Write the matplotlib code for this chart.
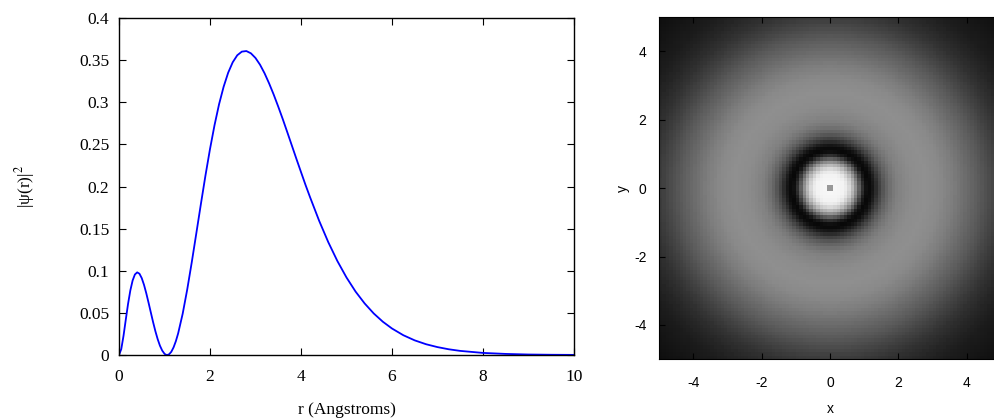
import numpy as np
import matplotlib
matplotlib.use('Agg')
import matplotlib.pyplot as plt

plt.rcParams['axes.unicode_minus'] = False
plt.rcParams['mathtext.fontset'] = 'stix'

# radial density curve
r_vals = [0.0, 0.05, 0.1, 0.15, 0.2, 0.25, 0.3, 0.35, 0.4, 0.45, 0.5, 0.55, 0.6, 0.65,
          0.7, 0.75, 0.8, 0.85, 0.9, 0.95, 1.0, 1.03, 1.06, 1.1, 1.15, 1.2, 1.25, 1.3,
          1.4, 1.5, 1.6, 1.7, 1.8, 1.9, 2.0, 2.1, 2.2, 2.3, 2.4, 2.5, 2.6, 2.7, 2.8,
          2.9, 3.0, 3.1, 3.2, 3.3, 3.4, 3.5, 3.6, 3.7, 3.8, 3.9, 4.0, 4.1, 4.2, 4.4,
          4.6, 4.8, 5.0, 5.2, 5.4, 5.6, 5.8, 6.0, 6.25, 6.5, 6.75, 7.0, 7.25, 7.5,
          8.0, 8.5, 9.0, 9.5, 10.0]
p_vals = [0.0, 0.0070, 0.0229, 0.0422, 0.0609, 0.0768, 0.0885, 0.0956, 0.0981, 0.0965,
          0.0913, 0.0833, 0.0733, 0.0621, 0.0505, 0.0390, 0.0283, 0.0189, 0.0111, 0.0053,
          0.0015, 0.0004, 0.0, 0.0008, 0.0038, 0.0091, 0.0164, 0.0256, 0.0490, 0.0778,
          0.1102, 0.1445, 0.1791, 0.2128, 0.2443, 0.2728, 0.2977, 0.3184, 0.3351, 0.3475,
          0.3558, 0.3601, 0.3608, 0.3581, 0.3526, 0.3446, 0.3344, 0.3224, 0.3092, 0.2949,
          0.2800, 0.2644, 0.2486, 0.2328, 0.2173, 0.2019, 0.1873, 0.1593, 0.1340, 0.1116,
          0.0921, 0.0753, 0.0612, 0.0493, 0.0395, 0.0315, 0.0235, 0.0174, 0.0128, 0.0094,
          0.0068, 0.0049, 0.0025, 0.0013, 0.0006, 0.0003, 0.00015]

# grey level of the right-panel map against distance from centre
map_r = [0.0, 0.09, 0.13, 0.4, 0.5, 0.6, 0.7, 0.8, 0.9, 1.0, 1.1, 1.2, 1.3, 1.4, 1.6,
         1.8, 2.0, 2.4, 2.8, 3.2, 3.6, 4.0, 4.4, 4.8, 5.2, 5.6, 6.0, 7.1]
map_grey = [0.6, 0.6, 0.97, 0.95, 0.9, 0.8, 0.66, 0.48, 0.28, 0.1, 0.03, 0.05, 0.12,
            0.22, 0.37, 0.46, 0.51, 0.55, 0.56, 0.54, 0.49, 0.42, 0.35, 0.27, 0.20,
            0.15, 0.11, 0.05]
grid_step = 0.1
grid_lim = 5.0

fig = plt.figure(figsize=(9.94, 4.19), dpi=100)

# ---- left panel ----
ax1 = fig.add_axes([0.1197, 0.1527, 0.4577, 0.8043])
ax1.plot(r_vals, p_vals, color='#0000ff', lw=1.3)
ax1.set_xlim(0, 10)
ax1.set_ylim(0, 0.4)
ax1.set_xticks([0, 2, 4, 6, 8, 10])
ax1.set_yticks([0, 0.05, 0.1, 0.15, 0.2, 0.25, 0.3, 0.35, 0.4])
ax1.set_yticklabels(['0', '0.05', '0.1', '0.15', '0.2', '0.25', '0.3', '0.35', '0.4'])
ax1.tick_params(direction='in', top=True, right=True, length=5, width=0.8)
ax1.tick_params(axis='x', pad=10)
ax1.tick_params(axis='y', pad=7)
for lab in ax1.get_xticklabels() + ax1.get_yticklabels():
    lab.set_family('Liberation Serif')
    lab.set_fontsize(12.5)
ax1.set_xlabel('r (Angstroms)', family='Liberation Serif', fontsize=12.5, labelpad=12)
ax1.set_ylabel('|ψ(r)|$^2$', family='Liberation Serif', fontsize=12.5, labelpad=30)
for s in ax1.spines.values():
    s.set_linewidth(1.0)

# ---- right panel ----
cells = np.arange(-grid_lim + grid_step / 2, grid_lim, grid_step)
gx, gy = np.meshgrid(cells, cells)
img = np.interp(np.hypot(gx, gy), map_r, map_grey)

ax2 = fig.add_axes([0.663, 0.143, 0.344, 0.816])
ax2.imshow(img, cmap='gray', vmin=0, vmax=1, origin='lower', interpolation='nearest',
           extent=[-grid_lim, grid_lim, -grid_lim, grid_lim], aspect='auto')
ax2.set_xlim(-5, 5)
ax2.set_ylim(-5, 5)
ax2.set_xticks([-4, -2, 0, 2, 4])
ax2.set_yticks([-4, -2, 0, 2, 4])
ax2.tick_params(direction='in', top=True, right=True, length=4, width=0.8,
                labelsize=10)
ax2.tick_params(axis='x', pad=12)
ax2.tick_params(axis='y', pad=9)
for lab in ax2.get_xticklabels() + ax2.get_yticklabels():
    lab.set_family('Liberation Sans')
ax2.set_xlabel('x', family='Liberation Sans', fontsize=10, labelpad=9)
ax2.set_ylabel('y', family='Liberation Sans', fontsize=10, labelpad=3)

fig.savefig('out.png', dpi=100)
